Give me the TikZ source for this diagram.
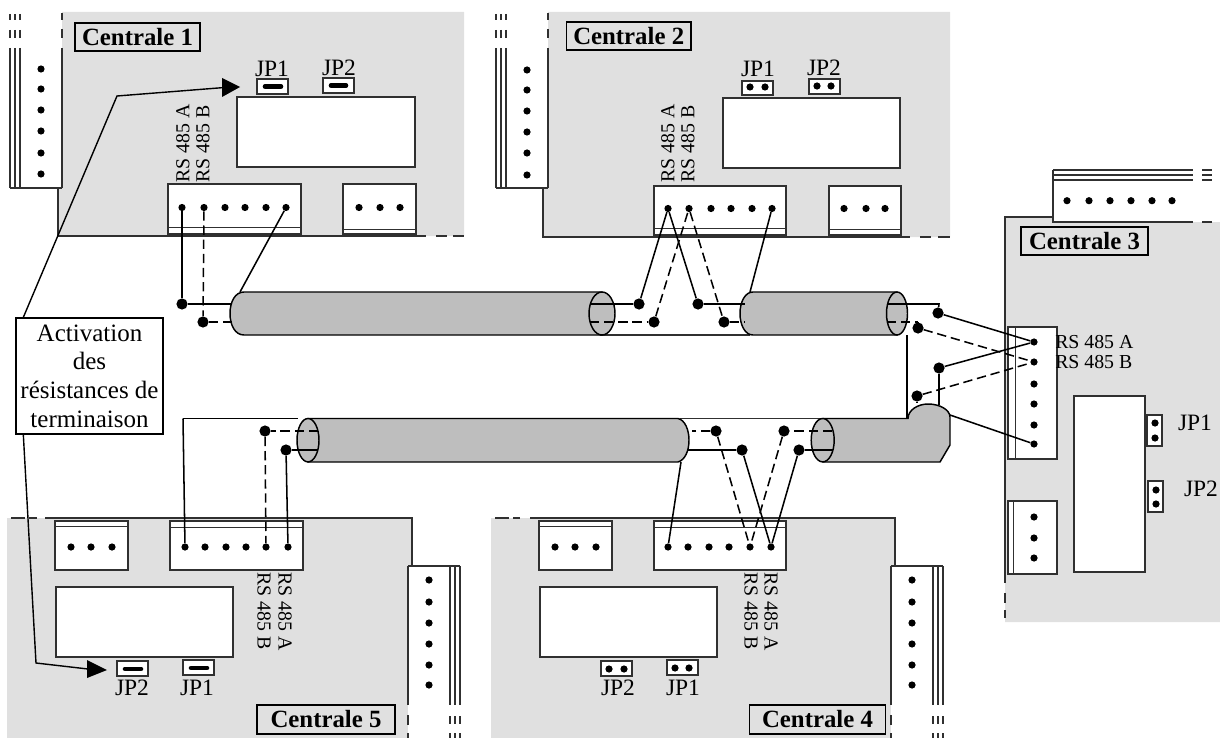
\documentclass[tikz,border=0pt]{standalone}
\usepackage{fontspec}
\setmainfont{Liberation Serif}
\definecolor{panelgray}{HTML}{E0E0E0}
\definecolor{cablegray}{HTML}{BEBEBE}
\definecolor{edgecol}{HTML}{303030}
\tikzset{
  panel/.style={fill=panelgray,draw=none},
  edge/.style={draw=edgecol,line width=0.8pt},
  whitebox/.style={fill=white,draw=edgecol,line width=0.85pt},
  innerline/.style={draw=edgecol,line width=0.75pt},
  pin/.style={circle,fill=black,inner sep=0pt,minimum size=5.4pt},
  bigdot/.style={circle,fill=black,inner sep=0pt,minimum size=8.4pt},
  wire/.style={draw=black,line width=1.15pt},
  dwire/.style={draw=black,line width=1.15pt,dash pattern=on 7pt off 3.6pt},
  cable/.style={fill=cablegray,draw=black,line width=1.1pt},
  titlebox/.style={draw=black,line width=1.1pt,inner sep=0pt,font=\fontsize{18.6pt}{20pt}\bfseries\selectfont},
  jplabel/.style={inner sep=0pt,font=\fontsize{17.6pt}{19pt}\selectfont},
  rslabel/.style={inner sep=0pt,font=\fontsize{14.85pt}{16pt}\selectfont},
  jumper/.style={line width=3.4pt,line cap=round,draw=black},
  callout/.style={draw=black,line width=1.05pt},
  tip/.style={fill=black,draw=none},
}
\newcommand{\stripT}[1]{%
  \foreach \d in {0,5,10}{\draw[edge] (#1+\d,14)--(#1+\d,20) (#1+\d,30)--(#1+\d,38) (#1+\d,48)--(#1+\d,188);}
  \fill[white] (#1+11,12)--(#1+52,12)--(#1+52,188)--(#1+11,188)--cycle;
  \draw[edge] (#1,188)--(#1+52,188) (#1+52,48)--(#1+52,188) (#1+52,13)--(#1+52,20) (#1+52,29)--(#1+52,38);
}
\newcommand{\stripB}[1]{%
  \fill[white] (#1,566) rectangle (#1+52,738);
  \foreach \d in {42,47,52}{\draw[edge] (#1+\d,566)--(#1+\d,705) (#1+\d,716)--(#1+\d,724) (#1+\d,733)--(#1+\d,738);}
  \draw[edge] (#1,566)--(#1+52,566) (#1,566)--(#1,705) (#1,715)--(#1,725) (#1,733)--(#1,738);
}
\begin{document}
\begin{tikzpicture}[x=0.75pt,y=-0.75pt]
\useasboundingbox (0,0) rectangle (1220,738);

% ---------- Panels ----------
\path[panel] (62,12)--(464,12)--(464,236)--(58,236)--(58,188)--(62,188)--cycle;
\path[panel] (548,12)--(950,12)--(950,237)--(543,237)--(543,188)--(548,188)--cycle;
\path[panel] (1005,217)--(1053,217)--(1053,222)--(1220,222)--(1220,622)--(1005,622)--cycle;
\path[panel] (7,518)--(412,518)--(412,566)--(408,566)--(408,738)--(7,738)--cycle;
\path[panel] (491,518)--(895,518)--(895,566)--(891,566)--(891,738)--(491,738)--cycle;

% panel outlines
\draw[edge] (58,188)--(58,236)--(426,236) (436,236)--(447,236) (453,236)--(464,236);
\draw[edge] (543,188)--(543,237)--(910,237) (920,237)--(931,237) (938,237)--(950,237);
\draw[edge] (1053,217)--(1005,217)--(1005,583) (1005,593)--(1005,603) (1005,610)--(1005,618);
\draw[edge] (11,518)--(25,518) (29,518)--(37,518) (45,518)--(412,518)--(412,566);
\draw[edge] (495,518)--(509,518) (513,518)--(520,518) (530,518)--(895,518)--(895,566);

% mounting strips
\stripT{10}
\stripT{496}
\stripB{408}
\stripB{891}
\fill[white] (1053,170) rectangle (1220,222);
\foreach \d in {170,175,180}{\draw[edge] (1053,\d)--(1193,\d) (1202,\d)--(1212,\d);}
\draw[edge] (1053,170)--(1053,222)--(1193,222) (1202,222)--(1212,222);

% strip pins
\foreach \y [count=\i] in {69,89,110,131,153,174}{\node[pin] (s1p\i) at (41,\y) {};}
\foreach \y [count=\i] in {70,90,111,132,153,175}{\node[pin] (s2p\i) at (527,\y) {};}
\foreach \x [count=\i] in {1067,1089,1110,1131,1152,1172}{\node[pin] (s3p\i) at (\x,200.7) {};}
\foreach \y [count=\i] in {580,602,623,644,665,685}{\node[pin] (s5p\i) at (429,\y) {}; \node[pin] (s4p\i) at (912,\y) {};}

% ---------- Displays ----------
\draw[whitebox] (237,97) rectangle (415,167);
\draw[whitebox] (723,98) rectangle (900,168);
\draw[whitebox] (1074,396) rectangle (1145,572);
\draw[whitebox] (540,587) rectangle (717,657);
\draw[whitebox] (56,587) rectangle (233,657);

% ---------- Terminal blocks ----------
\draw[whitebox] (168,184) rectangle (301,234); \draw[innerline] (168,227)--(301,227);
\draw[whitebox] (343,184) rectangle (416,234); \draw[innerline] (343,229)--(416,229);
\draw[whitebox] (654,186) rectangle (786,235); \draw[innerline] (654,228)--(786,228);
\draw[whitebox] (829,186) rectangle (901,235); \draw[innerline] (829,229.5)--(901,229.5);
\draw[whitebox] (1008,327) rectangle (1057,459); \draw[innerline] (1015,327)--(1015,459);
\draw[whitebox] (1008,501) rectangle (1057,574); \draw[innerline] (1013,501)--(1013,574);
\draw[whitebox] (654,521) rectangle (786,570); \draw[innerline] (654,527)--(786,527);
\draw[whitebox] (539,521) rectangle (612,570); \draw[innerline] (539,526)--(612,526);
\draw[whitebox] (170,521) rectangle (303,570); \draw[innerline] (170,527)--(303,527);
\draw[whitebox] (55,521) rectangle (128,570); \draw[innerline] (55,526)--(128,526);

\foreach \x [count=\i] in {182,204,225,245,266,286}{\node[pin] (c1a\i) at (\x,207.5) {};}
\foreach \x [count=\i] in {359,380,400}{\node[pin] (c1b\i) at (\x,207.5) {};}
\foreach \x [count=\i] in {668,689,711,731,752,772}{\node[pin] (c2a\i) at (\x,208.5) {};}
\foreach \x [count=\i] in {844,866,885}{\node[pin] (c2b\i) at (\x,208.5) {};}
\foreach \y [count=\i] in {342,362,384,404,425,444}{\node[pin] (c3a\i) at (1034,\y) {};}
\foreach \y [count=\i] in {517,538,558}{\node[pin] (c3b\i) at (1034,\y) {};}
\foreach \x [count=\i] in {668,688,709,729,750,771}{\node[pin] (c4a\i) at (\x,547) {};}
\foreach \x [count=\i] in {555,575,596}{\node[pin] (c4b\i) at (\x,547) {};}
\foreach \x [count=\i] in {185,205,226,246,266,288}{\node[pin] (c5a\i) at (\x,547) {};}
\foreach \x [count=\i] in {71,91,112}{\node[pin] (c5b\i) at (\x,547) {};}

% ---------- Jumpers ----------
\draw[whitebox] (257,79) rectangle (288,94);  \coordinate (j1a) at (265,86.5); \coordinate (j1b) at (281,86.5); \draw[jumper] (j1a)--(j1b);
\draw[whitebox] (323,78) rectangle (354,93);  \coordinate (j2a) at (331,85.5); \coordinate (j2b) at (346,85.5); \draw[jumper] (j2a)--(j2b);
\draw[whitebox] (742,81) rectangle (773,95);  \node[pin] (q1) at (750,87) {}; \node[pin] (q2) at (765,87) {};
\draw[whitebox] (809,79) rectangle (840,94);  \node[pin] (q3) at (817,86) {}; \node[pin] (q4) at (831,86) {};
\draw[whitebox] (1147,415) rectangle (1162,446); \node[pin] (q5) at (1155,423) {}; \node[pin] (q6) at (1155,438) {};
\draw[whitebox] (1148,481) rectangle (1163,512); \node[pin] (q7) at (1156,490) {}; \node[pin] (q8) at (1156,504) {};
\draw[whitebox] (601,661) rectangle (632,676); \node[pin] (q9) at (609,669) {}; \node[pin] (q10) at (624,669) {};
\draw[whitebox] (667,660) rectangle (698,675); \node[pin] (q11) at (675,668) {}; \node[pin] (q12) at (689,668) {};
\draw[whitebox] (117,661) rectangle (148,676); \coordinate (j3a) at (125,669); \coordinate (j3b) at (141,669); \draw[jumper] (j3a)--(j3b);
\draw[whitebox] (183,660) rectangle (214,675); \coordinate (j4a) at (191,668); \coordinate (j4b) at (207,668); \draw[jumper] (j4a)--(j4b);

% ---------- Labels ----------
\node[titlebox,minimum width=93.75pt,minimum height=21pt] (t1) at (137.5,37) {Centrale 1};
\node[titlebox,minimum width=93.4pt,minimum height=21pt] (t2) at (628.7,36) {Centrale 2};
\node[titlebox,minimum width=95.2pt,minimum height=21pt] (t3) at (1084.5,241) {Centrale 3};
\node[titlebox,minimum width=102pt,minimum height=21.7pt] (t4) at (817.5,719.5) {Centrale 4};
\node[titlebox,minimum width=103.5pt,minimum height=21.7pt] (t5) at (326,719.5) {Centrale 5};

\node[jplabel] (l1a) at (272,69) {JP1};
\node[jplabel] (l1b) at (339,68) {JP2};
\node[jplabel] (l2a) at (758,69) {JP1};
\node[jplabel] (l2b) at (824,68) {JP2};
\node[jplabel] (l3a) at (1195,423) {JP1};
\node[jplabel] (l3b) at (1201,489) {JP2};
\node[jplabel] (l4a) at (683,688) {JP1};
\node[jplabel] (l4b) at (618,688) {JP2};
\node[jplabel] (l5a) at (197,688) {JP1};
\node[jplabel] (l5b) at (132,688) {JP2};

\node[rslabel,rotate=90,anchor=west] (r1a) at (183,183) {RS 485 A};
\node[rslabel,rotate=90,anchor=west] (r1b) at (203,183) {RS 485 B};
\node[rslabel,rotate=90,anchor=west] (r2a) at (668,183) {RS 485 A};
\node[rslabel,rotate=90,anchor=west] (r2b) at (688,183) {RS 485 B};
\node[rslabel,anchor=west] (r3a) at (1055,342) {RS 485 A};
\node[rslabel,anchor=west] (r3b) at (1055,362) {RS 485 B};
\node[rslabel,rotate=-90,anchor=west] (r4a) at (771,572) {RS 485 A};
\node[rslabel,rotate=-90,anchor=west] (r4b) at (751,572) {RS 485 B};
\node[rslabel,rotate=-90,anchor=west] (r5a) at (285,572) {RS 485 A};
\node[rslabel,rotate=-90,anchor=west] (r5b) at (264,572) {RS 485 B};

% ---------- Cables ----------
\draw[edge] (600,335)--(750,335);
\draw[edge] (680,418.5)--(825,418.5);
\draw[cable] (244,292)--(602,292)--(602,335)--(244,335) .. controls (235,335) and (230,325) .. (230,313.5) .. controls (230,302) and (235,292) .. (244,292) -- cycle;
\draw[cable] (602,313.5) ellipse [x radius=13,y radius=21.5];
\draw[cable] (753,292)--(897,292)--(897,335)--(753,335) .. controls (745,335) and (740,325) .. (740,313.5) .. controls (740,302) and (745,292) .. (753,292) -- cycle;
\draw[cable] (897,313.5) ellipse [x radius=10.5,y radius=21.5];
\draw[cable] (308,418.5)--(678,418.5) .. controls (685,420) and (689,430) .. (689,440) .. controls (689,451) and (685,460) .. (678,462) -- (308,462) -- cycle;
\draw[cable] (308,440.2) ellipse [x radius=11,y radius=21.7];
\draw[cable] (823,418.5)--(908,418.5) .. controls (908,410) and (918,404) .. (928,404) .. controls (940,404) and (950,410) .. (950,417) -- (950,445) -- (940,462) -- (823,462) -- cycle;
\draw[cable] (822.7,440.2) ellipse [x radius=11.5,y radius=21.7];
\draw[draw=black,line width=1.05pt] (907,335)--(907,418.5);
\draw[draw=black,line width=1.05pt] (183,418.5)--(298,418.5);

% ---------- Wire joints ----------
\node[bigdot] (d1) at (182,304) {};
\node[bigdot] (d2) at (203,322) {};
\node[bigdot] (d3) at (639,304) {};
\node[bigdot] (d4) at (654,322) {};
\node[bigdot] (d5) at (698,304) {};
\node[bigdot] (d6) at (724,322) {};
\node[bigdot] (d7) at (938,313) {};
\node[bigdot] (d8) at (918,328) {};
\node[bigdot] (d9) at (939,368) {};
\node[bigdot] (d10) at (917,396) {};
\node[bigdot] (d11) at (799,450) {};
\node[bigdot] (d12) at (784,431) {};
\node[bigdot] (d13) at (742,450) {};
\node[bigdot] (d14) at (716,431) {};
\node[bigdot] (d15) at (265,431) {};
\node[bigdot] (d16) at (286,450) {};

% cable-end coordinates
\coordinate (e1a) at (232,304);
\coordinate (e1b) at (232,322);
\coordinate (e1s) at (240,292);
\coordinate (e2a) at (590,304);
\coordinate (e2b) at (590,322);
\coordinate (e3a) at (745,304);
\coordinate (e3b) at (745,322);
\coordinate (e3s) at (750,292);
\coordinate (e4a) at (887,304);
\coordinate (e4b) at (887,322);
\coordinate (e4c) at (939,304);
\coordinate (e4d) at (918,322);
\coordinate (e5a) at (939,405);
\coordinate (e5b) at (917,402);
\coordinate (e5s) at (950,415);
\coordinate (e6a) at (833,450);
\coordinate (e6b) at (832,431);
\coordinate (e7a) at (688,450);
\coordinate (e7b) at (692,431);
\coordinate (e7s) at (681,462);
\coordinate (e8a) at (317,450);
\coordinate (e8b) at (318,431);
\coordinate (e8c) at (183,418.5);

% ---------- Wires ----------
\draw[wire] (c1a1) -- (d1);
\draw[dwire] (c1a2) -- (d2);
\draw[wire] (c1a6) -- (e1s);
\draw[wire] (d1) -- (e1a);
\draw[dwire] (d2) -- (e1b);

\draw[wire] (e2a) -- (d3);
\draw[dwire] (e2b) -- (d4);
\draw[wire] (d3) -- (c2a1);
\draw[dwire] (d4) -- (c2a2);
\draw[wire] (c2a1) -- (d5);
\draw[dwire] (c2a2) -- (d6);
\draw[wire] (c2a6) -- (e3s);
\draw[wire] (d5) -- (e3a);
\draw[dwire] (d6) -- (e3b);

\draw[wire] (e4a) -- (e4c) -- (d7);
\draw[dwire] (e4b) -- (e4d);
\draw[wire] (e4d) -- (d8);
\draw[wire] (d7) -- (c3a1);
\draw[dwire] (d8) -- (c3a2);
\draw[wire] (d9) -- (c3a1);
\draw[dwire] (d10) -- (c3a2);
\draw[wire] (d9) -- (e5a);
\draw[wire] (d10) -- (e5b);
\draw[wire] (e5s) -- (c3a6);

\draw[wire] (e6a) -- (d11);
\draw[dwire] (e6b) -- (d12);
\draw[wire] (d11) -- (c4a6);
\draw[dwire] (d12) -- (c4a5);
\draw[wire] (d13) -- (c4a6);
\draw[dwire] (d14) -- (c4a5);
\draw[wire] (d13) -- (e7a);
\draw[dwire] (d14) -- (e7b);
\draw[wire] (e7s) -- (c4a1);

\draw[wire] (e8c) -- (c5a1);
\draw[dwire] (e8b) -- (d15);
\draw[wire] (e8a) -- (d16);
\draw[dwire] (d15) -- (c5a5);
\draw[wire] (d16) -- (c5a6);

% ---------- Callout ----------
\node[draw=black,line width=1pt,fill=white,minimum width=110.25pt,minimum height=87pt,inner sep=0pt,align=center,
      font=\fontsize{18.75pt}{21.5pt}\selectfont] (act) at (89.5,376)
  {Activation\\des\\résistances de\\terminaison};
\coordinate (aj1) at (222,87.7);
\coordinate (aj2) at (88,669);
\coordinate (bend1) at (117,96);
\coordinate (bend2) at (36,663);
\draw[callout] (act.north west) ++(8,0) coordinate (st1) -- (bend1) -- (aj1);
\draw[callout] (act.south west) ++(8,0) coordinate (st2) -- (bend2) -- (aj2);
\path[tip] (240,87) -- (222,78) -- (222,97) -- cycle;
\path[tip] (107,670) -- (87,660) -- (87,678) -- cycle;
\end{tikzpicture}
\end{document}
